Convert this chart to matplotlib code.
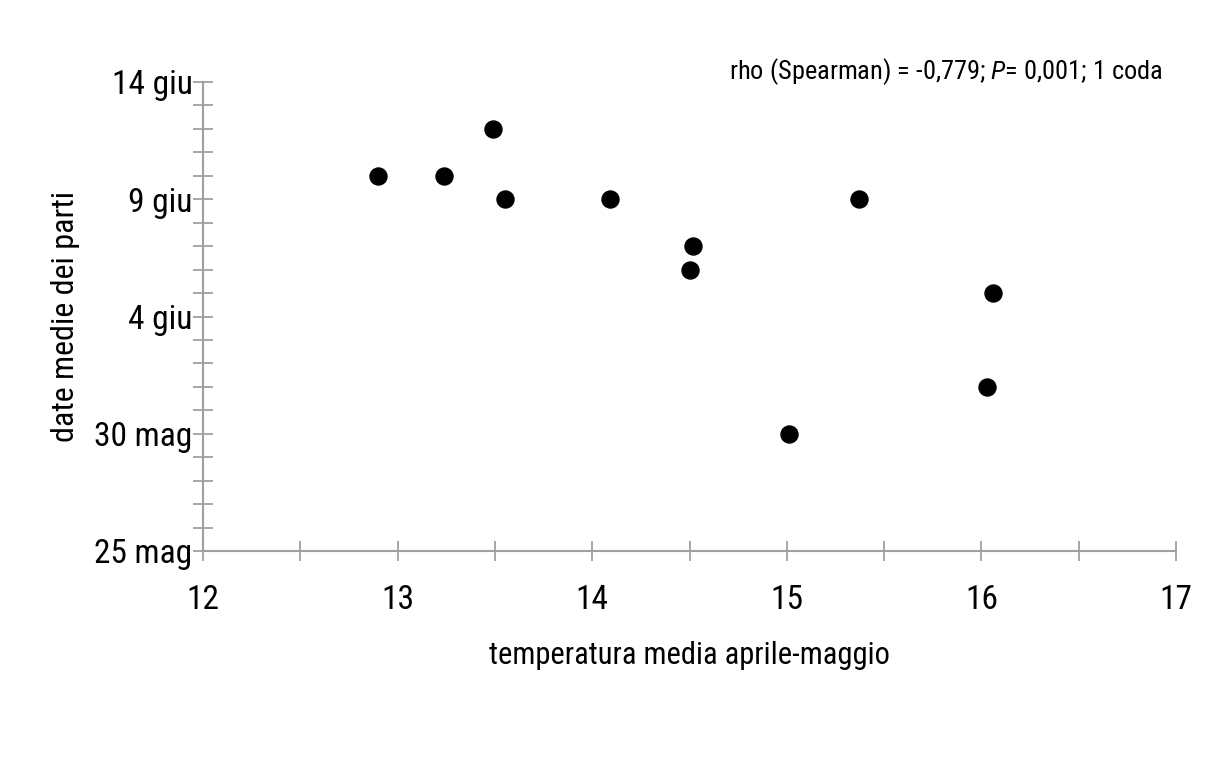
import matplotlib.pyplot as plt

# mean April-May temperature vs mean birth date (days after 25 May)
temperatura = [12.90, 13.24, 13.49, 13.55, 14.09, 14.52, 14.50, 15.37, 16.06, 16.03, 15.01]
giorni = [16, 16, 18, 15, 15, 13, 12, 15, 11, 7, 5]

y_ticks = [0, 5, 10, 15, 20]
y_labels = ["25 mag", "30 mag", "4 giu", "9 giu", "14 giu"]
x_ticks = [12, 13, 14, 15, 16, 17]

plt.rcParams["font.family"] = ["Roboto Condensed", "DejaVu Sans"]
plt.rcParams["mathtext.fontset"] = "custom"
plt.rcParams["mathtext.it"] = "Roboto Condensed:italic"

fig = plt.figure(figsize=(12.18, 7.58), dpi=100)
ax = fig.add_axes([203 / 1218, 1 - 551 / 758, (1176 - 203) / 1218, (551 - 82) / 758])

ax.scatter(temperatura, giorni, s=150, color="black", zorder=3, clip_on=False)

ax.set_xlim(12, 17)
ax.set_ylim(0, 20)
ax.set_xticks(x_ticks)
ax.set_xticks([12.5, 13.5, 14.5, 15.5, 16.5], minor=True)
ax.set_yticks(y_ticks)
ax.set_yticklabels(y_labels)
ax.set_yticks([d for d in range(21) if d % 5], minor=True)

for s in ["top", "right"]:
    ax.spines[s].set_visible(False)
for s in ["left", "bottom"]:
    ax.spines[s].set_color("#a0a0a0")
    ax.spines[s].set_linewidth(1.5)

ax.tick_params(which="both", direction="inout", color="#a0a0a0", width=1.3)
ax.tick_params(which="major", length=14, labelsize=24)
ax.tick_params(which="minor", length=14)
ax.tick_params(axis="x", pad=17)
ax.tick_params(axis="y", pad=0.5)

ax.set_xlabel("temperatura media aprile-maggio", fontsize=22, labelpad=18)
ax.set_ylabel("date medie dei parti", fontsize=23, labelpad=10)

fig.text(1163 / 1218, 1 - 72 / 758, "rho (Spearman) = -0,779; $\\it{P}$= 0,001; 1 coda",
         fontsize=19, ha="right", va="center")

fig.savefig("out.png", dpi=100, facecolor="white")
